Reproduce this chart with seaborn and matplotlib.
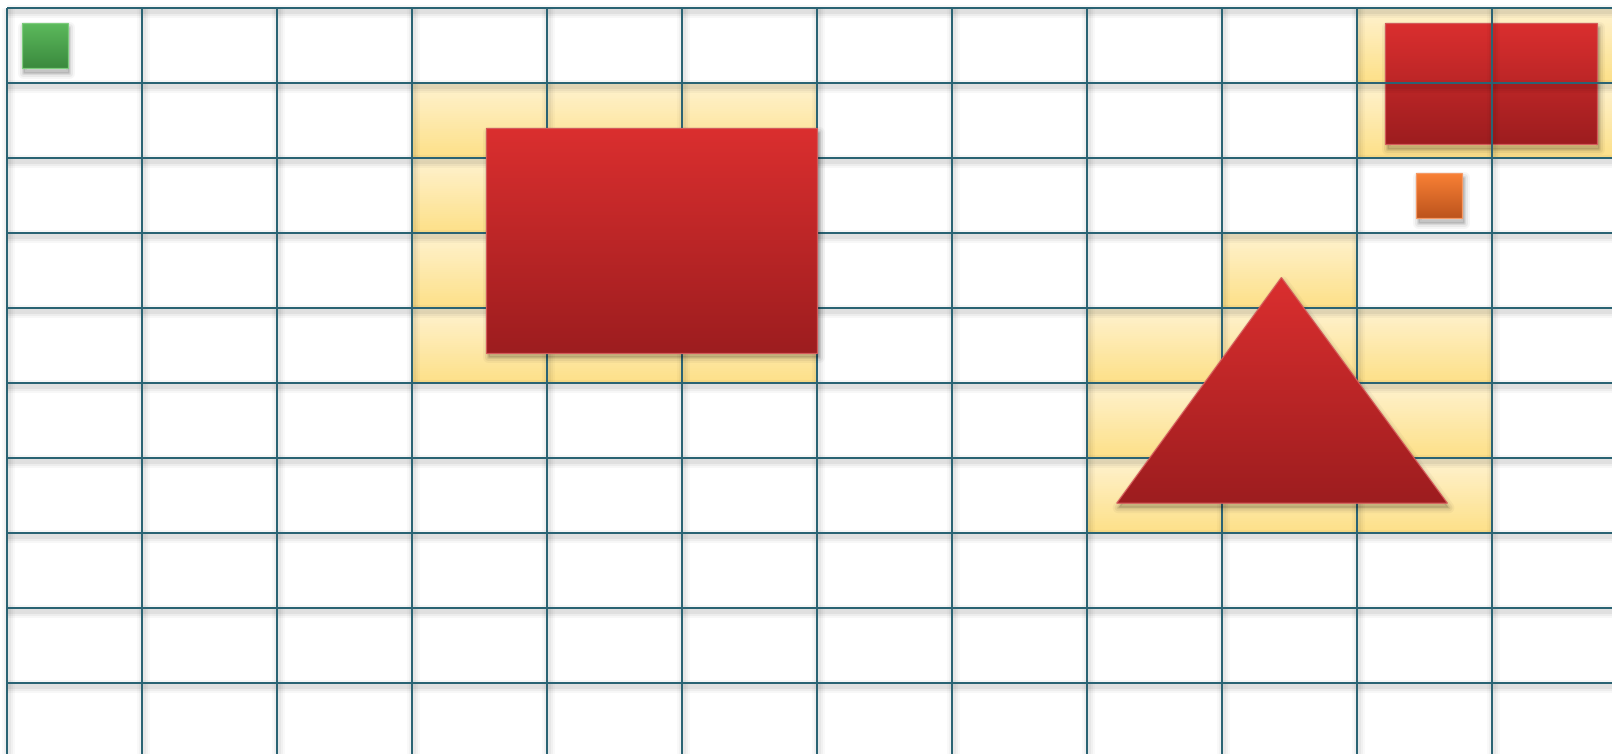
import matplotlib

matplotlib.use("Agg")
import matplotlib.pyplot as plt
import numpy as np
import pandas as pd
import seaborn as sns
from matplotlib.colors import LinearSegmentedColormap
from matplotlib.patches import Polygon

# board layout (in cells)
N_COLS = 12
N_ROWS = 10

# highlighted (yellow) cells
hl_cols = [10, 11, 10, 11, 3, 4, 5, 3, 4, 5, 3, 4, 5, 3, 4, 5, 9, 8, 9, 10, 8, 9, 10, 8, 9, 10]
hl_rows = [0, 0, 1, 1, 1, 1, 1, 2, 2, 2, 3, 3, 3, 4, 4, 4, 3, 4, 4, 4, 5, 5, 5, 6, 6, 6]

# rectangles (cell units)
rect_names = ["green", "big red", "corner red", "orange"]
rect_left = [0.11, 3.55, 10.21, 10.44]
rect_right = [0.45, 6.00, 11.78, 10.78]
rect_top = [0.20, 1.60, 0.20, 2.20]
rect_bottom = [0.81, 4.60, 1.82, 2.81]

# triangle (cell units)
tri_x = [8.22, 9.44, 10.67]
tri_y = [6.61, 3.60, 6.61]

# styles
W_PX, H_PX = 1612, 754
CELL_W_PX, CELL_H_PX = 135, 75
ORIGIN_X_PX, ORIGIN_Y_PX = 7, 7.5
GRID_COLOR = "#2a6373"
YELLOW_TOP, YELLOW_BOTTOM = "#fef2cf", "#fde089"
RED = ("#db2f2f", "#9d1d1f", "#d45a5a")
GREEN = ("#5dbb5d", "#3b8a3e", "#7ccc7c")
ORANGE = ("#fb8236", "#bd541d", "#f59a66")
rect_styles = [GREEN, RED, RED, ORANGE]
rect_under_grid = [False, False, True, False]

SUB = 40  # sub-rows per cell for the vertical gradient of the highlighted cells
PX = 72 / 100  # points per pixel


def gradient_shape(ax, xs, ys, style, base_z):
    c_top, c_bottom, c_edge = style
    xs = np.asarray(xs, dtype=float)
    ys = np.asarray(ys, dtype=float)
    dx, dy = 1.5 / CELL_W_PX, 4.5 / CELL_H_PX
    # soft drop shadow
    for lw, a in [(11, 0.035), (7, 0.05), (3, 0.07)]:
        ax.add_patch(Polygon(np.column_stack([xs + dx, ys + dy]), closed=True,
                             facecolor=(0, 0, 0, a), edgecolor=(0, 0, 0, a),
                             linewidth=lw * PX, joinstyle="round", zorder=base_z))
    poly = Polygon(np.column_stack([xs, ys]), closed=True, facecolor="none",
                   edgecolor=c_edge, linewidth=1.2 * PX, zorder=base_z + 0.2)
    ax.add_patch(poly)
    cmap = LinearSegmentedColormap.from_list("grad", [c_top, c_bottom])
    grad = np.linspace(0, 1, 256).reshape(-1, 1)
    im = ax.imshow(grad, cmap=cmap, extent=(xs.min(), xs.max(), ys.max(), ys.min()),
                   aspect="auto", origin="upper", interpolation="bilinear", zorder=base_z + 0.1)
    im.set_clip_path(poly)


def main() -> None:
    sns.set_theme(style="white")
    fig = plt.figure(figsize=(W_PX / 100, H_PX / 100), dpi=100)
    fig.patch.set_facecolor("white")

    xlim = (-ORIGIN_X_PX / CELL_W_PX, (W_PX - ORIGIN_X_PX) / CELL_W_PX)
    ylim = ((H_PX - ORIGIN_Y_PX) / CELL_H_PX, -ORIGIN_Y_PX / CELL_H_PX)

    # highlighted cells as a heatmap with a vertical gradient inside each cell
    ax_cells = fig.add_axes([0, 0, 1, 1])
    frac = np.linspace(0, 1, SUB)
    values = np.full((N_ROWS * SUB, N_COLS), np.nan)
    for c, r in zip(hl_cols, hl_rows):
        values[r * SUB:(r + 1) * SUB, c] = frac
    cells = pd.DataFrame(values)
    yellow = LinearSegmentedColormap.from_list("yellow", [YELLOW_TOP, YELLOW_BOTTOM])
    sns.heatmap(cells, mask=cells.isna(), cmap=yellow, vmin=0, vmax=1, cbar=False,
                xticklabels=False, yticklabels=False, linewidths=0, ax=ax_cells)
    ax_cells.set_xlim(xlim)
    ax_cells.set_ylim(ylim[0] * SUB, ylim[1] * SUB)
    ax_cells.axis("off")

    ax = fig.add_axes([0, 0, 1, 1])
    ax.patch.set_alpha(0)

    cols = np.arange(N_COLS)
    rows = np.arange(N_ROWS)
    px_x, px_y = 1 / CELL_W_PX, 1 / CELL_H_PX

    # grid line shadows
    for lw, a in [(13, 0.03), (9, 0.04), (5, 0.05)]:
        ax.hlines(rows + 3.5 * px_y, 0, xlim[1], color="black", alpha=a, linewidth=lw * PX, zorder=3)
        ax.vlines(cols + 1.0 * px_x, 0, ylim[0], color="black", alpha=a * 0.8, linewidth=lw * PX, zorder=3)

    # grid lines
    ax.hlines(rows, 0, xlim[1], color=GRID_COLOR, linewidth=2.0 * PX, zorder=4)
    ax.vlines(cols, 0, ylim[0], color=GRID_COLOR, linewidth=2.0 * PX, zorder=4)

    # shapes
    for x0, x1, y0, y1, style, under in zip(rect_left, rect_right, rect_top, rect_bottom,
                                            rect_styles, rect_under_grid):
        gradient_shape(ax, [x0, x1, x1, x0], [y0, y0, y1, y1], style, 2 if under else 5)
    gradient_shape(ax, tri_x, tri_y, RED, 5)

    ax.set_xlim(xlim)
    ax.set_ylim(ylim)
    ax.axis("off")

    fig.savefig("out.png", dpi=100, facecolor="white")
    plt.close(fig)


if __name__ == "__main__":
    main()
